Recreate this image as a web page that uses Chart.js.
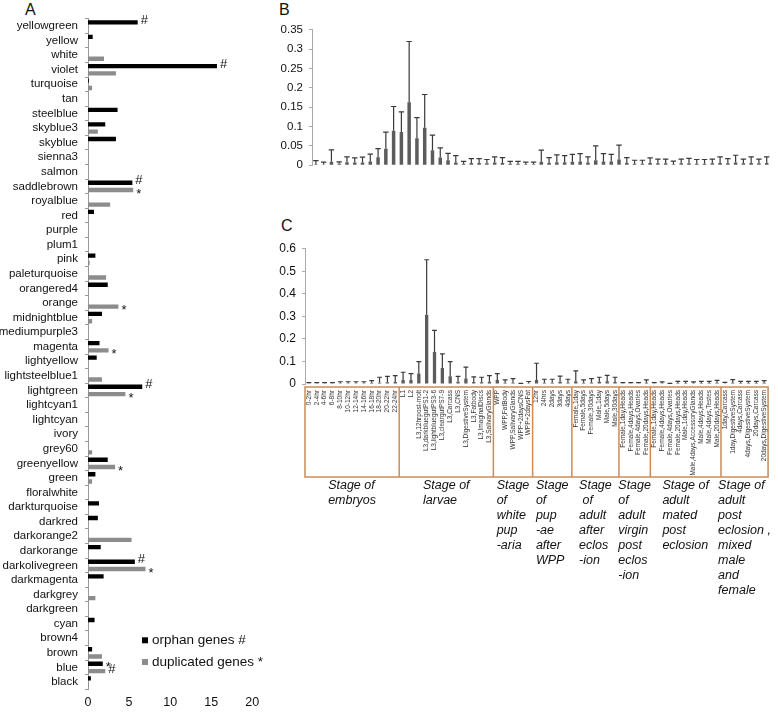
<!DOCTYPE html>
<html>
<head>
<meta charset="utf-8">
<script src="https://cdn.jsdelivr.net/npm/chart.js@4.4.0/dist/chart.umd.min.js"></script>
<style>
  body { margin: 0; background: #fff; width: 778px; height: 712px; position: relative; overflow: hidden; font-family: "Liberation Sans", Arial, sans-serif; }
  canvas { position: absolute; }
  .tag { position: absolute; font-size: 16px; line-height: 16px; color: #111; }
</style>
</head>
<body>
<div class="tag" style="left:25px;top:2px">A</div>
<div class="tag" style="left:279px;top:2px">B</div>
<div class="tag" style="left:281px;top:218px">C</div>
<canvas id="chartA" width="290" height="712" style="left:0;top:0"></canvas>
<canvas id="chartB" width="528" height="190" style="left:250px;top:0"></canvas>
<canvas id="chartC" width="528" height="522" style="left:250px;top:190px"></canvas>
<script>
// ---- panel A data ----
const modules = ["yellowgreen", "yellow", "white", "violet", "turquoise", "tan", "steelblue", "skyblue3", "skyblue",
  "sienna3", "salmon", "saddlebrown", "royalblue", "red", "purple", "plum1", "pink", "paleturquoise", "orangered4",
  "orange", "midnightblue", "mediumpurple3", "magenta", "lightyellow", "lightsteelblue1", "lightgreen", "lightcyan1",
  "lightcyan", "ivory", "grey60", "greenyellow", "green", "floralwhite", "darkturquoise", "darkred", "darkorange2",
  "darkorange", "darkolivegreen", "darkmagenta", "darkgrey", "darkgreen", "cyan", "brown4", "brown", "blue", "black"];
const orphanGenes = [6.05, 0.57, 0, 15.7, 0.1, 0, 3.6, 2.1, 3.4, 0, 0, 5.4, 0, 0.73, 0, 0, 0.9, 0, 2.4, 0, 1.7, 0, 1.4,
  1.06, 0, 6.6, 0, 0, 0, 0, 2.4, 0.9, 0, 1.34, 1.2, 0, 1.55, 5.7, 1.9, 0, 0, 0.8, 0, 0.5, 1.8, 0.35];
const duplicatedGenes = [0, 0, 1.95, 3.4, 0.5, 0, 0, 1.2, 0, 0, 0, 5.5, 2.7, 0, 0, 0, 0.2, 2.2, 0, 3.7, 0.5, 0, 2.5,
  0, 1.7, 4.55, 0, 0, 0, 0.5, 3.3, 0.5, 0, 0, 0, 5.3, 0, 7.0, 0, 0.9, 0, 0, 0, 1.7, 2.1, 0.1];
const orphanMarks = [["yellowgreen", "#"], ["violet", "#"], ["saddlebrown", "#"], ["lightgreen", "#"], ["darkolivegreen", "#"], ["blue", "*"]];
const duplicatedMarks = [["saddlebrown", "*"], ["orange", "*"], ["magenta", "*"], ["lightgreen", "*"], ["greenyellow", "*"], ["darkolivegreen", "*"], ["blue", "#"]];

// ---- panels B and C data ----
const tissues = ["0-2hr", "2-4hr", "4-6hr", "6-8hr", "8-10hr", "10-12hr", "12-14hr", "14-16hr", "16-18hr", "18-20hr", "20-22hr", "22-24hr",
  "L1", "L2", "L3,12hrpost-molt", "L3,darkbluegutPS1-2", "L3,lightbluegutPS3-6", "L3,cleargutPS7-9", "L3,Carcass", "L3,CNS",
  "L3,DigestiveSystem", "L3,Fatbody", "L3,ImaginalDiscs", "L3,SalivaryGlands",
  "WPP", "WPP,FatBody", "WPP,SalivaryGlands", "WPP+2daysCNS", "WPP+2daysFat",
  "12hr", "24hrs", "2days", "3days", "4days",
  "Female,1day", "Female,5days", "Female,30days", "Male,1day", "Male,5days", "Male,30days",
  "Female,1day,Heads", "Female,4days,Heads", "Female,4days,Ovaries", "Female,20days,Heads",
  "Female,1day,Heads", "Female,4days,Heads", "Female,4days,Ovaries", "Female,20days,Heads", "Male,1day,Heads",
  "Male,4days,AccessoryGlands", "Male,4days,Heads", "Male,4days,Testes", "Male,20days,Heads",
  "1day,Carcass", "1day,DigestiveSystem", "4days,Carcass", "4days,DigestiveSystem", "20days,Carcass", "20days,DigestiveSystem"];
const stageSizes = [12, 12, 5, 5, 6, 4, 9, 6];
const stageNames = [
  ["Stage of", "embryos"],
  ["Stage of", "larvae"],
  ["Stage", "of", "white", "pup", "-aria"],
  ["Stage", "of", "pup", "-ae", "after", "WPP"],
  ["Stage", " of", "adult", "after", "eclos", "-ion"],
  ["Stage", "of", "adult", "virgin", "post", "eclos", "-ion"],
  ["Stage of", "adult", "mated", "post", "eclosion"],
  ["Stage of", "adult", "post", "eclosion ,", "mixed", "male", "and", "female"]];

const meanB = [0.003, 0.002, 0.009, 0.004, 0.008, 0.007, 0.007, 0.01, 0.021, 0.043, 0.089, 0.086, 0.163, 0.07, 0.097,
  0.039, 0.02, 0.013, 0.007, 0.004, 0.006, 0.006, 0.005, 0.007, 0.006, 0.004, 0.004, 0.003, 0.003, 0.009, 0.006, 0.008,
  0.008, 0.009, 0.01, 0.007, 0.013, 0.01, 0.01, 0.015, 0.006, 0.004, 0.004, 0.006, 0.005, 0.005, 0.003, 0.005, 0.005,
  0.004, 0.004, 0.005, 0.006, 0.005, 0.007, 0.005, 0.006, 0.005, 0.006];
const sdB = [0.009, 0.006, 0.031, 0.005, 0.014, 0.012, 0.014, 0.019, 0.022, 0.043, 0.063, 0.052, 0.157, 0.053, 0.086,
  0.039, 0.025, 0.018, 0.018, 0.006, 0.011, 0.011, 0.01, 0.015, 0.014, 0.006, 0.006, 0.005, 0.005, 0.03, 0.014, 0.019,
  0.017, 0.019, 0.02, 0.015, 0.037, 0.02, 0.018, 0.037, 0.014, 0.009, 0.009, 0.013, 0.011, 0.011, 0.008, 0.011, 0.013,
  0.011, 0.011, 0.011, 0.016, 0.012, 0.019, 0.011, 0.016, 0.011, 0.016];
const meanC = [0.002, 0.002, 0.002, 0.002, 0.003, 0.003, 0.003, 0.003, 0.004, 0.006, 0.008, 0.009,
  0.018, 0.018, 0.047, 0.307, 0.142, 0.071, 0.034, 0.01, 0.024, 0.009, 0.008, 0.01,
  0.018, 0.005, 0.006, 0.001, 0.003,
  0.018, 0.006, 0.006, 0.01, 0.006,
  0.012, 0.005, 0.007, 0.01, 0.012, 0.009,
  0.002, 0.002, 0.002, 0.005,
  0.002, 0.003, 0.001, 0.004, 0.004, 0.003, 0.004, 0.004, 0.005,
  0.002, 0.006, 0.004, 0.004, 0.004, 0.005];
const sdC = [0.004, 0.004, 0.004, 0.004, 0.007, 0.007, 0.007, 0.007, 0.011, 0.024, 0.026, 0.028,
  0.034, 0.028, 0.052, 0.244, 0.096, 0.063, 0.065, 0.024, 0.051, 0.023, 0.022, 0.027,
  0.028, 0.013, 0.018, 0.002, 0.008,
  0.074, 0.015, 0.015, 0.025, 0.015,
  0.046, 0.013, 0.017, 0.02, 0.026, 0.021,
  0.004, 0.004, 0.004, 0.013,
  0.004, 0.006, 0.002, 0.008, 0.008, 0.006, 0.008, 0.008, 0.011,
  0.005, 0.013, 0.008, 0.008, 0.008, 0.01];

const FONT = '"Liberation Sans", Arial, sans-serif';
Chart.defaults.font.family = FONT;
Chart.defaults.color = "#222";
Chart.defaults.animation = false;

// marks (#, *) next to bars in panel A plus its legend
const markPlugin = {
  id: "marks",
  afterDatasetsDraw(chart, args, opts) {
    const ctx = chart.ctx;
    ctx.save();
    ctx.fillStyle = "#111";
    ctx.font = "13px " + FONT;
    ctx.textBaseline = "middle";
    [orphanMarks, duplicatedMarks].forEach((marks, ds) => {
      const meta = chart.getDatasetMeta(ds);
      marks.forEach(([name, sym]) => {
        const bar = meta.data[modules.indexOf(name)];
        ctx.fillText(sym, bar.x + 3, bar.y + (sym === "*" ? 4 : -2));
      });
    });
    // legend
    const area = chart.chartArea;
    ctx.font = "13.5px " + FONT;
    chart.data.datasets.forEach((d, i) => {
      const y = area.bottom - 49 + i * 21.7;
      ctx.fillStyle = d.backgroundColor;
      ctx.fillRect(area.left + 54, y - 3, 6, 6);
      ctx.fillStyle = "#111";
      ctx.fillText(d.label, area.left + 64, y);
    });
    ctx.restore();
  }
};

// upper error bars for B and C
const errorBarPlugin = {
  id: "errorBars",
  afterDatasetsDraw(chart, args, opts) {
    const ctx = chart.ctx, y = chart.scales.y;
    const means = chart.data.datasets[0].data;
    ctx.save();
    ctx.strokeStyle = "#3a3a3a";
    ctx.lineWidth = 1.2;
    chart.getDatasetMeta(0).data.forEach((bar, i) => {
      const top = y.getPixelForValue(means[i] + opts.sd[i]);
      ctx.beginPath();
      ctx.moveTo(bar.x, bar.y);
      ctx.lineTo(bar.x, top);
      ctx.moveTo(bar.x - opts.cap, top);
      ctx.lineTo(bar.x + opts.cap, top);
      ctx.stroke();
    });
    ctx.restore();
  }
};

// stage boxes and stage names under panel C
const stagePlugin = {
  id: "stages",
  afterDraw(chart) {
    const ctx = chart.ctx, x = chart.scales.x;
    const step = x.width / tissues.length;
    const top = chart.chartArea.bottom + 3, bottom = x.bottom;
    ctx.save();
    ctx.strokeStyle = "#c98c5a";
    ctx.lineWidth = 1.5;
    ctx.strokeRect(x.left, top, x.right - x.left, bottom - top);
    ctx.fillStyle = "#111";
    ctx.font = "italic 12.5px " + FONT;
    ctx.textBaseline = "middle";
    let start = 0;
    stageSizes.forEach((n, g) => {
      const left = x.getPixelForValue(start) - step / 2;
      const right = x.getPixelForValue(start + n - 1) + step / 2;
      if (g > 0) {
        ctx.beginPath();
        ctx.moveTo(left, top);
        ctx.lineTo(left, bottom);
        ctx.stroke();
      }
      const lines = stageNames[g];
      const w = Math.max(...lines.map(l => ctx.measureText(l).width));
      const tx = (left + right) / 2 - w / 2;
      lines.forEach((l, k) => ctx.fillText(l, tx, bottom + 9 + k * 14.9));
      start += n;
    });
    ctx.restore();
  }
};

// Panel A
new Chart("chartA", {
  type: "bar",
  data: {
    labels: modules,
    datasets: [
      { label: "orphan genes #", data: orphanGenes, backgroundColor: "#000" },
      { label: "duplicated genes *", data: duplicatedGenes, backgroundColor: "#8c8c8c" }
    ]
  },
  options: {
    indexAxis: "y",
    responsive: false,
    barPercentage: 0.6,
    categoryPercentage: 1,
    layout: { padding: { top: 18.7, bottom: 0.7, right: 37.7, left: 0 } },
    plugins: { legend: { display: false }, tooltip: { enabled: false } },
    scales: {
      x: {
        min: 0, max: 20,
        ticks: { stepSize: 5, padding: 6, font: { size: 12.5 }, color: "#111" },
        grid: { display: false, drawTicks: false },
        border: { display: false },
        afterFit(s) { s.height = 22; }
      },
      y: {
        ticks: { autoSkip: false, padding: 7, font: { size: 11.5 }, color: "#111" },
        grid: { drawOnChartArea: false, tickLength: 3, color: "#999" },
        border: { color: "#999" },
        afterFit(s) { s.width = 88; }
      }
    }
  },
  plugins: [markPlugin]
});

// Panel B
new Chart("chartB", {
  type: "bar",
  data: { labels: tissues, datasets: [{ data: meanB, backgroundColor: "#5c5c5c" }] },
  options: {
    responsive: false,
    barPercentage: 0.45,
    categoryPercentage: 1,
    layout: { padding: { top: 29.9, bottom: 24.7, right: 7.4, left: 0 } },
    plugins: { legend: { display: false }, tooltip: { enabled: false }, errorBars: { sd: sdB, cap: 2.7 } },
    scales: {
      x: { display: false },
      y: {
        min: 0, max: 0.35,
        ticks: { stepSize: 0.05, padding: 6, font: { size: 11.5 }, color: "#111", callback: v => String(+v.toFixed(2)) },
        grid: { drawOnChartArea: false, tickLength: 3, color: "#aaa" },
        border: { color: "#aaa" },
        afterFit(s) { s.width = 62; }
      }
    }
  },
  plugins: [errorBarPlugin]
});

// Panel C
new Chart("chartC", {
  type: "bar",
  data: { labels: tissues, datasets: [{ data: meanC, backgroundColor: "#5c5c5c" }] },
  options: {
    responsive: false,
    barPercentage: 0.42,
    categoryPercentage: 1,
    layout: { padding: { top: 58.7, bottom: 235, right: 6, left: 0 } },
    plugins: { legend: { display: false }, tooltip: { enabled: false }, errorBars: { sd: sdC, cap: 2.4 } },
    scales: {
      x: {
        ticks: { autoSkip: false, minRotation: 90, maxRotation: 90, padding: 6, font: { size: 6.5 }, color: "#333" },
        grid: { display: false, drawTicks: false },
        border: { display: false },
        afterFit(s) { s.height = 93; }
      },
      y: {
        min: 0, max: 0.6,
        ticks: { stepSize: 0.1, padding: 6, font: { size: 12 }, color: "#111", callback: v => String(+v.toFixed(1)) },
        grid: { drawOnChartArea: false, tickLength: 3, color: "#aaa" },
        border: { color: "#aaa" },
        afterFit(s) { s.width = 55; }
      }
    }
  },
  plugins: [errorBarPlugin, stagePlugin]
});
</script>
</body>
</html>
